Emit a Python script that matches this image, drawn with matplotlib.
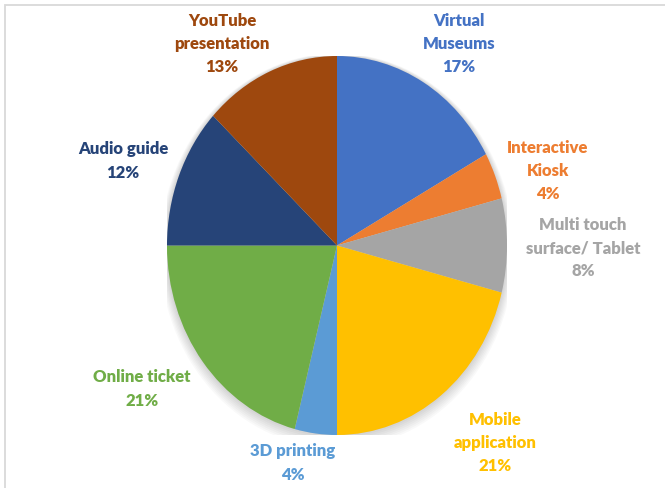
import matplotlib.pyplot as plt
from matplotlib.patches import Rectangle, Ellipse

# slice data, clockwise from 12 o'clock
labels = ["Virtual\nMuseums", "Interactive\nKiosk", "Multi touch\nsurface/ Tablet",
          "Mobile\napplication", "3D printing", "Online ticket", "Audio guide",
          "YouTube\npresentation"]
shares = [17, 4, 8, 21, 4, 21, 12, 13]
colors = ["#4472C4", "#ED7D31", "#A5A5A5", "#FFC000",
          "#5B9BD5", "#70AD47", "#264478", "#9E480E"]

# label centres in pixels (x, y from top)
label_px = [(459, 44), (548, 171), (583, 248), (495, 443),
            (293, 463), (142, 389), (123, 161), (222, 44)]

W, H = 665, 488
fig = plt.figure(figsize=(W / 100, H / 100), dpi=100)

# light frame along top and left
fig.patches.append(Rectangle((5 / W, -0.1), 1.2, (H - 5) / H + 0.1,
                             transform=fig.transFigure, fill=False,
                             edgecolor="#D9D9D9", linewidth=1.3))

cx, cy, rx, ry = 337, 245.5, 170, 189.5
ax = fig.add_axes([(cx - rx) / W, (H - cy - ry) / H, 2 * rx / W, 2 * ry / H])
ax.set_xlim(-1, 1)
ax.set_ylim(-1, 1)
ax.axis("off")

# soft shadow around the pie
for i in range(8):
    ax.add_patch(Ellipse((0, 0.0 - 0.004 * i), 2 + 0.012 * i, 2 + 0.012 * i,
                         color="black", alpha=0.025, lw=0, zorder=0))

ax.pie(shares, colors=colors, startangle=90, counterclock=False,
       radius=1, wedgeprops=dict(linewidth=0))
ax.set_aspect("auto")
ax.set_xlim(-1, 1)
ax.set_ylim(-1, 1)

for lab, val, col, (px, py) in zip(labels, shares, colors, label_px):
    fig.text(px / W, 1 - py / H, f"{lab}\n{val}%", color=col,
             ha="center", va="center", fontsize=12, fontweight="heavy",
             family="Lato", linespacing=1.55)

fig.savefig("out.png", dpi=100)
